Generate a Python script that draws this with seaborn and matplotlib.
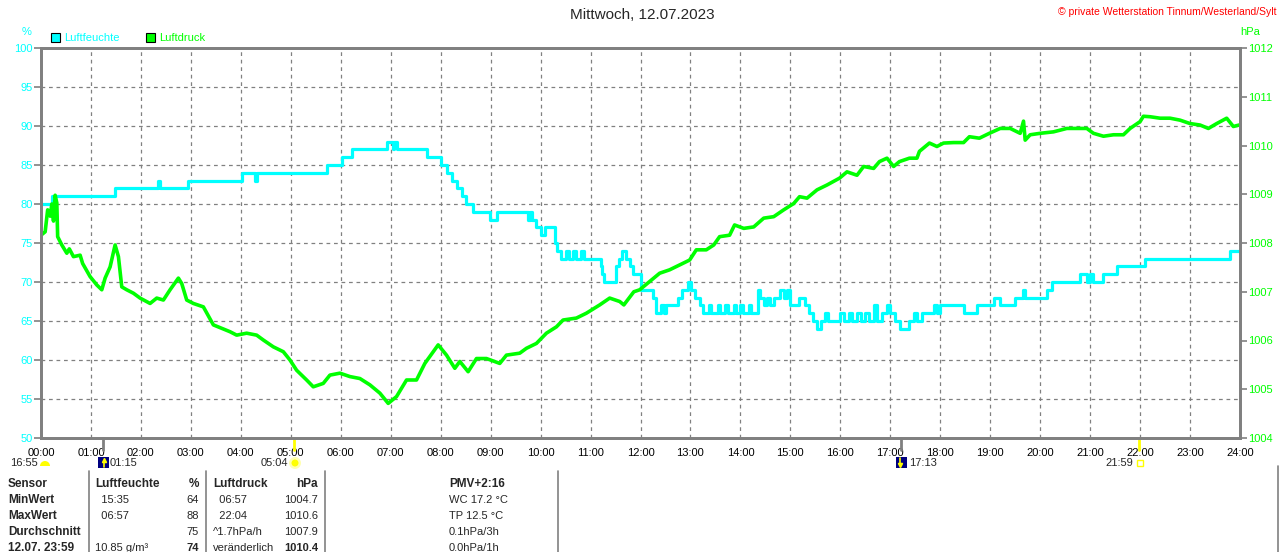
import matplotlib
matplotlib.use("Agg")
import matplotlib.pyplot as plt
import matplotlib.transforms as mtransforms
from matplotlib.patches import Rectangle, Circle, Wedge
import pandas as pd
import seaborn as sns

CYAN = "#00FFFF"
GREEN = "#00FF00"
GREY = "#808080"

# Luftfeuchte (%), Zeitpunkte der Stufenwechsel
hum_time = ["00:00", "00:13", "01:29", "02:20", "02:23", "02:56", "04:01", "04:17", "04:20",
            "05:43", "06:02", "06:13", "06:56", "07:03", "07:04", "07:07", "07:43",
            "08:01", "08:08", "08:14", "08:20", "08:26", "08:31", "08:39", "08:59", "09:08",
            "09:45", "09:47", "09:50", "09:54", "10:01", "10:05", "10:17", "10:20", "10:24",
            "10:30", "10:34", "10:39", "10:43", "10:49", "10:52", "11:13", "11:14", "11:16",
            "11:31", "11:34", "11:38", "11:43", "11:47", "11:51", "12:01", "12:15", "12:19",
            "12:25", "12:28", "12:31", "12:45", "12:50", "12:57", "13:01", "13:06", "13:11",
            "13:15", "13:22", "13:25", "13:33", "13:36", "13:42", "13:45", "13:52", "13:55",
            "14:00", "14:03", "14:10", "14:13", "14:21", "14:24", "14:28", "14:32", "14:35",
            "14:40", "14:47", "14:52", "14:56", "15:00", "15:10", "15:18", "15:22", "15:27",
            "15:32", "15:37", "15:42", "15:45", "15:59", "16:05", "16:10", "16:14", "16:20",
            "16:25", "16:30", "16:35", "16:40", "16:44", "16:50", "16:56", "17:00", "17:06",
            "17:12", "17:22", "17:28", "17:32", "17:38", "17:52", "17:56", "18:00", "18:28",
            "18:44", "19:04", "19:12", "19:30", "19:39", "19:42", "20:08", "20:14", "20:48",
            "20:56", "21:00", "21:03", "21:16", "21:32", "22:06", "23:48", "24:00"]
hum_val = [80, 81, 82, 83, 82, 83, 84, 83, 84,
           85, 86, 87, 88, 87, 88, 87, 86,
           85, 84, 83, 82, 81, 80, 79, 78, 79,
           78, 79, 78, 77, 76, 77, 75, 74, 73,
           74, 73, 74, 73, 74, 73, 72, 71, 70,
           72, 73, 74, 73, 72, 71, 69, 68, 66,
           67, 66, 67, 68, 69, 70, 69, 68, 67,
           66, 67, 66, 67, 66, 67, 66, 67, 66,
           67, 66, 67, 66, 69, 68, 67, 68, 67,
           68, 69, 68, 69, 67, 68, 67, 66, 65,
           64, 65, 66, 65, 66, 65, 66, 65, 66,
           65, 66, 65, 67, 65, 66, 67, 66, 65,
           64, 65, 66, 65, 66, 67, 66, 67, 66,
           67, 68, 67, 68, 69, 68, 69, 70, 71,
           70, 71, 70, 71, 72, 73, 74, 74]

# Luftdruck (hPa)
press_time = ["00:00", "00:05", "00:08", "00:11", "00:13", "00:15", "00:17", "00:19", "00:20",
              "00:25", "00:31", "00:34", "00:39", "00:47", "00:50", "00:59", "01:07", "01:13",
              "01:17", "01:23", "01:29", "01:33", "01:37", "01:43", "01:51", "01:59", "02:11",
              "02:19", "02:27", "02:35", "02:45", "02:49", "02:55", "03:03", "03:15", "03:27",
              "03:37", "03:47", "03:55", "04:07", "04:19", "04:27", "04:39", "04:51", "04:59",
              "05:07", "05:19", "05:27", "05:39", "05:47", "05:59", "06:11", "06:23", "06:35",
              "06:47", "06:57", "07:07", "07:19", "07:31", "07:41", "07:57", "08:07", "08:17",
              "08:23", "08:33", "08:43", "08:55", "09:11", "09:19", "09:35", "09:43", "09:55",
              "10:07", "10:19", "10:27", "10:43", "10:55", "11:11", "11:23", "11:35", "11:40",
              "11:52", "11:59", "12:11", "12:23", "12:35", "12:47", "12:59", "13:07", "13:19",
              "13:28", "13:35", "13:47", "13:53", "14:04", "14:16", "14:28", "14:40", "14:52",
              "15:04", "15:11", "15:20", "15:32", "15:44", "15:59", "16:08", "16:20", "16:28",
              "16:40", "16:47", "16:56", "17:04", "17:11", "17:23", "17:32", "17:35", "17:47",
              "17:56", "18:04", "18:16", "18:28", "18:35", "18:47", "18:59", "19:12", "19:24",
              "19:36", "19:40", "19:42", "19:48", "20:00", "20:16", "20:32", "20:48", "20:56",
              "21:04", "21:16", "21:28", "21:40", "21:48", "22:00", "22:04", "22:12", "22:24",
              "22:36", "22:48", "23:00", "23:12", "23:22", "23:32", "23:44", "23:52", "23:59"]
press_val = [1008.16, 1008.23, 1008.68, 1008.55, 1008.80, 1008.45, 1008.98, 1008.82, 1008.13,
             1007.96, 1007.79, 1007.88, 1007.72, 1007.75, 1007.58, 1007.31, 1007.14, 1007.04,
             1007.28, 1007.51, 1007.96, 1007.72, 1007.10, 1007.04, 1006.97, 1006.87, 1006.76,
             1006.87, 1006.83, 1007.04, 1007.28, 1007.17, 1006.83, 1006.76, 1006.69, 1006.32,
             1006.25, 1006.18, 1006.11, 1006.15, 1006.11, 1006.01, 1005.87, 1005.77, 1005.60,
             1005.39, 1005.19, 1005.05, 1005.12, 1005.29, 1005.33, 1005.26, 1005.22, 1005.09,
             1004.92, 1004.71, 1004.85, 1005.19, 1005.19, 1005.53, 1005.91, 1005.70, 1005.43,
             1005.57, 1005.36, 1005.63, 1005.63, 1005.53, 1005.70, 1005.74, 1005.84, 1005.94,
             1006.15, 1006.28, 1006.42, 1006.46, 1006.56, 1006.73, 1006.87, 1006.80, 1006.73,
             1007.00, 1007.04, 1007.21, 1007.38, 1007.45, 1007.55, 1007.65, 1007.86, 1007.86,
             1007.96, 1008.13, 1008.16, 1008.37, 1008.30, 1008.33, 1008.51, 1008.54, 1008.68,
             1008.81, 1008.95, 1008.92, 1009.09, 1009.19, 1009.33, 1009.46, 1009.39, 1009.57,
             1009.53, 1009.67, 1009.74, 1009.57, 1009.67, 1009.74, 1009.74, 1009.88, 1010.05,
             1009.98, 1010.05, 1010.06, 1010.06, 1010.18, 1010.15, 1010.25, 1010.35, 1010.35,
             1010.25, 1010.50, 1010.11, 1010.22, 1010.25, 1010.28, 1010.35, 1010.35, 1010.35,
             1010.25, 1010.19, 1010.22, 1010.22, 1010.35, 1010.49, 1010.60, 1010.59, 1010.56,
             1010.56, 1010.52, 1010.45, 1010.42, 1010.35, 1010.45, 1010.56, 1010.39, 1010.42]

hour_labels = [f"{h:02d}:00" for h in range(25)]
hum_ticks = list(range(50, 101, 5))
press_ticks = list(range(1004, 1013))

# Sonne / Mond
sun_times = ["05:04", "21:59"]
moon_times = ["01:15", "17:13"]

# Tabelle unten
table_rows = [
    ["Sensor", "Luftfeuchte", "%", "Luftdruck", "hPa", "PMV+2:16"],
    ["MinWert", "  15:35", "64", "  06:57", "1004.7", "WC 17.2 °C"],
    ["MaxWert", "  06:57", "88", "  22:04", "1010.6", "TP 12.5 °C"],
    ["Durchschnitt", "", "75", "^1.7hPa/h", "1007.9", "0.1hPa/3h"],
    ["12.07. 23:59", "10.85 g/m³", "74", "veränderlich", "1010.4", "0.0hPa/1h"],
]


def to_hours(stamps):
    return [int(s[:2]) + int(s[3:]) / 60 for s in stamps]


hum = pd.DataFrame({"h": to_hours(hum_time), "Luftfeuchte": hum_val})
press = pd.DataFrame({"h": to_hours(press_time), "Luftdruck": press_val})

sns.set_style("white")
plt.rcParams["font.family"] = ["Liberation Sans", "DejaVu Sans"]

W, H = 1280, 552
fig = plt.figure(figsize=(W / 100, H / 100), dpi=100)
ax = fig.add_axes([41 / W, 1 - 438 / H, 1199 / W, 390 / H])
ax2 = ax.twinx()

sns.lineplot(data=hum, x="h", y="Luftfeuchte", ax=ax, color=CYAN, lw=2.3,
             drawstyle="steps-post", estimator=None, sort=False, legend=False)
sns.lineplot(data=press, x="h", y="Luftdruck", ax=ax2, color=GREEN, lw=2.6,
             estimator=None, sort=False, legend=False)

ax.set_xlim(0, 24)
ax.set_ylim(50, 100)
ax2.set_ylim(1004, 1012)
ax.set_xticks(range(25))
ax.set_xticklabels(hour_labels)
ax.set_yticks(hum_ticks)
ax2.set_yticks(press_ticks)
for a in (ax, ax2):
    a.set_xlabel("")
    a.set_ylabel("")
    for sp in a.spines.values():
        sp.set_color(GREY)
        sp.set_linewidth(2)

ax.grid(True, color=GREY, ls=(0, (3, 3)), lw=0.9)
ax.tick_params(axis="x", length=0, labelsize=8, pad=7, labelcolor="black")
ax.tick_params(axis="y", left=True, length=5, width=1.2, color=GREY, labelcolor=CYAN,
               labelsize=8, pad=1)
ax2.tick_params(axis="y", right=True, length=5, width=1.2, color=GREY, labelcolor=GREEN,
                labelsize=8, pad=1)

# Markierungen an der Zeitachse
trans = mtransforms.blended_transform_factory(ax.transData, ax.transAxes)
for t in to_hours(sun_times):
    ax.plot([t, t], [-0.03, 0.0], color="yellow", lw=2, transform=trans, clip_on=False)
for t in to_hours(moon_times):
    ax.plot([t, t], [-0.03, 0.0], color=GREY, lw=2, transform=trans, clip_on=False)

# Overlay in Pixelkoordinaten
ov = fig.add_axes([0, 0, 1, 1], zorder=5)
ov.set_xlim(0, W)
ov.set_ylim(H, 0)
ov.axis("off")
ov.patch.set_visible(False)

ov.text(642, 15, "Mittwoch, 12.07.2023", ha="center", va="center", fontsize=11)
ov.text(1276, 12, "© private Wetterstation Tinnum/Westerland/Sylt", ha="right",
        va="center", color="red", fontsize=7.5)
ov.text(27, 32, "%", ha="center", va="center", color=CYAN, fontsize=8)
ov.text(1250, 32, "hPa", ha="center", va="center", color=GREEN, fontsize=8)

ov.add_patch(Rectangle((50.5, 33), 9, 9, fc=CYAN, ec="black", lw=0.8))
ov.text(64, 38, "Luftfeuchte", va="center", color=CYAN, fontsize=8)
ov.add_patch(Rectangle((145.5, 33), 9, 9, fc=GREEN, ec="black", lw=0.8))
ov.text(159, 38, "Luftdruck", va="center", color=GREEN, fontsize=8)

# Sonne / Mond Zeile
ov.text(10, 463, "16:55", va="center", fontsize=8)
ov.add_patch(Wedge((45, 466), 5, 180, 360, fc="yellow", ec="none"))
ov.add_patch(Rectangle((98, 457), 11, 11, fc="#000080", ec="none"))
ov.plot([103.5, 103.5], [467, 461], color="yellow", lw=1.2)
ov.plot(103.5, 460, marker="^", color="yellow", ms=3)
ov.text(110, 463, "01:15", va="center", fontsize=8)
ov.text(288, 463, "05:04", ha="right", va="center", fontsize=8)
ov.add_patch(Circle((295, 463), 6, fc="#FFFFB0", ec="none"))
ov.add_patch(Circle((295, 463), 3.5, fc="yellow", ec="none"))
ov.add_patch(Rectangle((896, 457), 11, 11, fc="#000080", ec="none"))
ov.plot([900, 900], [458, 464], color="yellow", lw=1.2)
ov.plot(900, 465, marker="v", color="yellow", ms=3)
ov.text(909, 463, "17:13", va="center", fontsize=8)
ov.text(1133, 463, "21:59", ha="right", va="center", fontsize=8)
ov.add_patch(Rectangle((1137, 460), 6, 6, fc="none", ec="yellow", lw=1))

# Tabelle
for x in (89, 206, 325, 558):
    ov.plot([x, x], [471, H], color=GREY, lw=1.2)
ov.plot([1278, 1278], [466, H], color=GREY, lw=1.2)

row_y = [484, 500, 516, 532, 548]
for i, row in enumerate(table_rows):
    y = row_y[i]
    head = i == 0
    ov.text(8, y, row[0], va="center", fontsize=8.5, fontweight="bold")
    ov.text(95, y, row[1], va="center", fontsize=8.5 if head else 8,
            fontweight="bold" if head else "normal")
    ov.text(199, y, row[2], ha="right", va="center", fontsize=8.5 if head else 8,
            fontweight="bold" if head or i == 4 else "normal")
    ov.text(213, y, row[3], va="center", fontsize=8.5 if head else 8,
            fontweight="bold" if head else "normal")
    ov.text(318, y, row[4], ha="right", va="center", fontsize=8.5 if head else 8,
            fontweight="bold" if head or i == 4 else "normal")
    ov.text(449, y, row[5], va="center", fontsize=8.5 if head else 8,
            fontweight="bold" if head else "normal")

fig.savefig("out.png", dpi=100, facecolor="white")
